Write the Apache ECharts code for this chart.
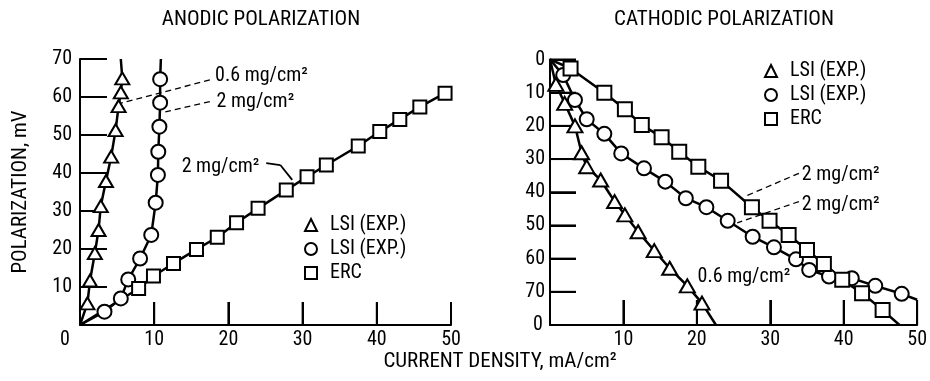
<!DOCTYPE html>
<html>
<head>
<meta charset="utf-8">
<script src="https://cdn.jsdelivr.net/npm/echarts@6/dist/echarts.min.js"></script>
<style>html,body{margin:0;padding:0;background:#fff}#c{width:930px;height:381px}</style>
</head>
<body>
<div id="c"></div>
<script>
// ---------------- DATA ----------------
// x: current density (mA/cm²), y: polarization (mV)
const anodicLsi06 = [[1.0,5.7],[1.35,11.7],[2.0,18.9],[2.5,25.0],[2.8,31.3],[3.5,37.9],[4.2,44.3],[4.8,51.3],[5.2,57.6],[5.5,61.2],[5.7,64.9]];
const anodicLsi06Ends = [[0,0],[5.5,70]];
const anodicLsi2 = [[3.3,3.5],[5.5,7.0],[6.5,12.0],[8.1,17.5],[9.6,23.7],[10.2,32.2],[10.5,39.5],[10.55,45.6],[10.7,52.2],[10.8,58.5],[10.8,64.7]];
const anodicLsi2Ends = [[0,0],[10.9,70]];
const anodicErc = [[7.9,9.6],[9.9,12.9],[12.6,16.2],[15.7,19.9],[18.5,23.1],[21.1,26.9],[24.0,30.7],[27.8,35.5],[30.6,39.0],[33.2,42.1],[37.5,47.1],[40.4,50.9],[43.1,54.1],[45.8,57.4],[49.2,61.0]];
const anodicErcEnds = [[0,0],null];

const cathodicLsi06 = [[0.8,7.5],[2.0,13.2],[3.4,20.0],[4.3,28.1],[5.0,32.3],[6.9,36.3],[8.8,42.8],[10.2,46.8],[12.0,51.9],[14.2,57.6],[16.3,62.9],[18.7,68.2],[20.7,73.4]];
const cathodicLsi06Ends = [[0,0],[22.6,80]];
const cathodicLsi2 = [[1.8,4.7],[3.4,12.2],[5.0,18.0],[7.4,22.4],[9.7,28.3],[12.8,32.8],[15.7,36.8],[18.5,41.8],[21.3,44.5],[24.2,48.6],[27.6,53.4],[30.5,56.6],[33.5,60.2],[35.3,63.4],[38.0,65.4],[41.1,65.9],[44.3,68.2],[47.9,70.6]];
const cathodicLsi2Ends = [[0,0],[50,72.4]];
const cathodicErc = [[2.8,2.7],[7.4,10.0],[10.2,15.0],[12.5,19.7],[15.2,23.4],[17.6,27.8],[20.2,32.3],[23.3,36.5],[27.5,44.5],[29.9,48.6],[32.5,52.9],[35.0,57.4],[37.3,61.6],[39.8,66.4],[42.5,70.4],[45.3,75.5]];
const cathodicErcEnds = [[0,0],[47.6,80]];

const seriesNames = ['LSI (EXP.)', 'LSI (EXP.) ', 'ERC'];
const xTickValues = [0,10,20,30,40,50];
const anodicYTickValues = [10,20,30,40,50,60,70];
const cathodicYTickValues = [0,10,20,30,40,50,60,70];
const anodicYMax = 70;
const cathodicYMax = 80;

// annotations (data coordinates)
const anodicNoteText = ['0.6 mg/cm²', '2 mg/cm²', '2 mg/cm²'];
const anodicNoteAt = [[18.2,65.5],[18.4,58.8],[13.7,41.7]];
const anodicLeaders = [
  [[17.5,64.5],[5.4,58.3]],
  [[17.5,58.8],[11.5,56.1]],
  [[25.1,42.6],[27.0,42.1]],
  [[27.0,42.1],[28.6,38.2]]
];
const anodicLeaderDashed = [true, true, false, false];
const cathodicNoteText = ['2 mg/cm²', '2 mg/cm²', '0.6 mg/cm²'];
const cathodicNoteAt = [[34.3,34.8],[34.3,43.8],[20.1,65.5]];
const cathodicLeaders = [
  [[33.9,34.3],[26.5,41.3]],
  [[33.9,42.8],[25.5,49.2]]
];

// ---------------- CHART ----------------
const FONT = "'Roboto Condensed','DejaVu Sans Condensed',sans-serif";
const BLACK = '#000';
const FS = 20;

function curve(points, ends) {
  const d = [];
  if (ends && ends[0]) d.push({ value: ends[0], symbol: 'none' });
  points.forEach(p => d.push({ value: p }));
  if (ends && ends[1]) d.push({ value: ends[1], symbol: 'none' });
  return d;
}

function lineSeries(name, gi, data, symbol, size) {
  return {
    type: 'line', name: name, xAxisIndex: gi, yAxisIndex: gi, data: data,
    symbol: symbol, symbolSize: size, showAllSymbol: true, smooth: false,
    lineStyle: { color: BLACK, width: 2.5 },
    itemStyle: { color: '#fff', borderColor: BLACK, borderWidth: 2 },
    emphasis: { disabled: true }, animation: false, z: 3
  };
}

function notes(texts, at, leaders, dashed) {
  return {
    markPoint: {
      symbol: 'circle', symbolSize: 0, silent: true, animation: false,
      itemStyle: { color: 'transparent' },
      label: { show: true, position: 'right', distance: 0, color: BLACK, fontFamily: FONT, fontSize: FS },
      data: texts.map((t, i) => ({ coord: at[i], label: { formatter: t } }))
    },
    markLine: {
      symbol: ['none', 'none'], silent: true, animation: false,
      label: { show: false },
      lineStyle: { color: BLACK, width: 1.3, type: [6, 4] },
      data: leaders.map((seg, i) => [
        { coord: seg[0], lineStyle: { type: (dashed && dashed[i] === false) ? 'solid' : [6, 4], width: (dashed && dashed[i] === false) ? 1.8 : 1.3 } },
        { coord: seg[1] }
      ])
    }
  };
}

// inward tick marks drawn through the axis scales
function tickSeries(gi, values, axisDim, baseValue, dx, dy) {
  return {
    type: 'custom', xAxisIndex: gi, yAxisIndex: gi, silent: true, animation: false, clip: false, z: 2,
    data: values.map(v => (axisDim === 'x' ? [v, baseValue] : [baseValue, v])),
    renderItem: function (params, api) {
      const p = api.coord([api.value(0), api.value(1)]);
      return {
        type: 'line',
        shape: { x1: p[0], y1: p[1], x2: p[0] + dx, y2: p[1] + dy },
        style: { stroke: BLACK, lineWidth: 2 }
      };
    }
  };
}

const axisLineStyle = { color: BLACK, width: 2 };
const tickStyle = { color: BLACK, width: 2 };
const labelBase = { color: BLACK, fontFamily: FONT, fontSize: FS };

const s1 = lineSeries(seriesNames[0], 0, curve(anodicLsi06, anodicLsi06Ends), 'triangle', [14, 12]);
const s2 = lineSeries(seriesNames[1], 0, curve(anodicLsi2, anodicLsi2Ends), 'circle', 14);
const s3 = Object.assign(lineSeries(seriesNames[2], 0, curve(anodicErc, anodicErcEnds), 'rect', 13),
  notes(anodicNoteText, anodicNoteAt, anodicLeaders, anodicLeaderDashed));
const s4 = lineSeries(seriesNames[0], 1, curve(cathodicLsi06, cathodicLsi06Ends), 'triangle', [15, 13]);
const s5 = lineSeries(seriesNames[1], 1, curve(cathodicLsi2, cathodicLsi2Ends), 'circle', 14);
const s6 = Object.assign(lineSeries(seriesNames[2], 1, curve(cathodicErc, cathodicErcEnds), 'rect', 14),
  notes(cathodicNoteText, cathodicNoteAt, cathodicLeaders, null));

const t1 = tickSeries(0, anodicYTickValues, 'y', 0, 27, 0);
const t2 = tickSeries(0, xTickValues.slice(1), 'x', 0, 0, -23);
const t3 = tickSeries(1, cathodicYTickValues, 'y', 0, 26, 0);
const t4 = tickSeries(1, xTickValues.slice(1), 'x', cathodicYMax, 0, -25);

function legend(left, top, gap) {
  return {
    orient: 'vertical', left: left, top: top, itemWidth: 12, itemHeight: 12, itemGap: gap,
    selectedMode: false,
    data: [
      { name: seriesNames[0], icon: 'triangle' },
      { name: seriesNames[1], icon: 'circle' },
      { name: seriesNames[2], icon: 'rect' }
    ],
    formatter: n => n.trim(),
    itemStyle: { color: '#fff', borderColor: BLACK, borderWidth: 2 },
    textStyle: { color: BLACK, fontFamily: FONT, fontSize: FS, padding: [0, 0, 0, 8] }
  };
}

function xAxis(gi, tickLen, fmt, rich) {
  return {
    gridIndex: gi, type: 'value', min: 0, max: 50, interval: 10,
    axisLine: { show: true, onZero: false, lineStyle: axisLineStyle },
    axisTick: { show: true, inside: true, length: tickLen, lineStyle: tickStyle },
    splitLine: { show: false },
    axisLabel: Object.assign({}, labelBase, { show: true, margin: 5, formatter: fmt }, rich ? { rich: rich } : {})
  };
}

const option = {
  animation: false,
  backgroundColor: '#fff',
  grid: [
    { left: 80, top: 59, width: 371, height: 266 },
    { left: 550, top: 59.5, width: 368.5, height: 265.5 }
  ],
  xAxis: [
    xAxis(0, 23, v => (v === xTickValues[0] ? '{z|0}' : String(v)),
      { z: { fontFamily: FONT, fontSize: FS, color: BLACK, padding: [0, 30, 0, 0] } }),
    xAxis(1, 25, v => (v === xTickValues[0] ? '' : String(v)), null)
  ],
  yAxis: [
    {
      gridIndex: 0, type: 'value', min: 0, max: anodicYMax, interval: 10,
      axisLine: { show: true, onZero: false, lineStyle: axisLineStyle },
      axisTick: { show: true, inside: true, length: 27, lineStyle: tickStyle },
      splitLine: { show: false },
      axisLabel: Object.assign({}, labelBase, { margin: 8, formatter: v => (v === 0 ? '' : String(v)) }),
      name: 'POLARIZATION, mV', nameLocation: 'middle', nameGap: 49, nameRotate: 90,
      nameTextStyle: { color: BLACK, fontFamily: FONT, fontSize: 21 }
    },
    {
      gridIndex: 1, type: 'value', min: 0, max: cathodicYMax, interval: 10, inverse: true,
      axisLine: { show: true, onZero: false, lineStyle: axisLineStyle },
      axisTick: { show: true, inside: true, length: 26, lineStyle: tickStyle },
      splitLine: { show: false },
      axisLabel: Object.assign({}, labelBase, { margin: 5, formatter: v => (v === cathodicYMax ? '' : String(v)) })
    }
  ],
  legend: [legend(299, 210, 4), legend(759, 56, 4)],
  graphic: [
    { type: 'text', x: 261, y: 20, style: { text: 'ANODIC POLARIZATION', font: '21px ' + FONT, fill: BLACK, align: 'center', verticalAlign: 'middle' } },
    { type: 'text', x: 724, y: 20, style: { text: 'CATHODIC POLARIZATION', font: '21px ' + FONT, fill: BLACK, align: 'center', verticalAlign: 'middle' } },
    { type: 'text', x: 500, y: 362, style: { text: 'CURRENT DENSITY, mA/cm²', font: '21px ' + FONT, fill: BLACK, align: 'center', verticalAlign: 'middle' } },
    { type: 'text', x: 538, y: 325, style: { text: '0', font: FS + 'px ' + FONT, fill: BLACK, align: 'center', verticalAlign: 'middle' } }
  ],
  series: [t1, t2, t3, t4, s1, s2, s3, s4, s5, s6]
};

const chart = echarts.init(document.getElementById('c'), null, { renderer: 'canvas' });
chart.setOption(option);
</script>
</body>
</html>
